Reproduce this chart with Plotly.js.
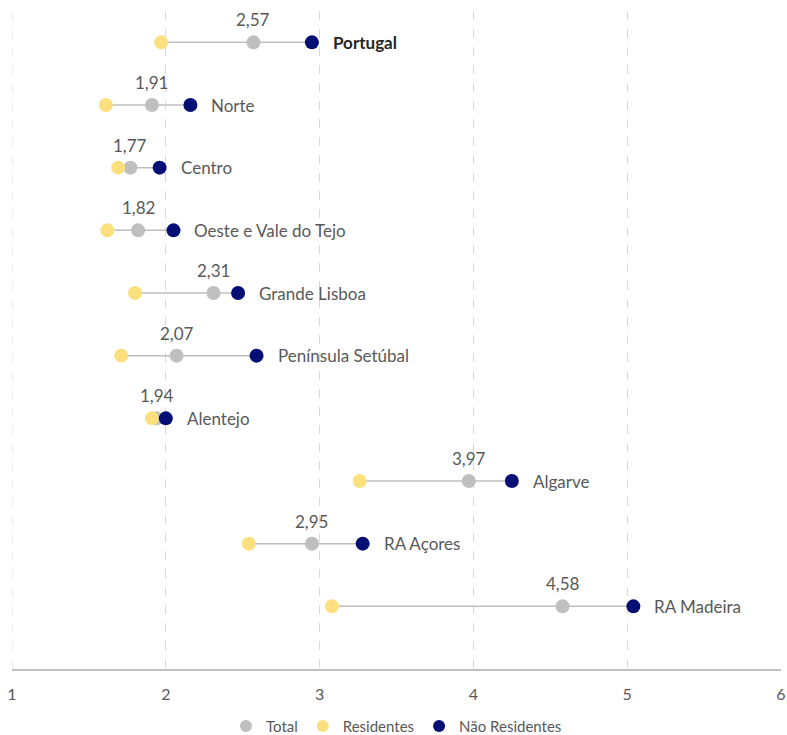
<!DOCTYPE html>
<html>
<head>
<meta charset="utf-8">
<script src="https://cdn.plot.ly/plotly-3.0.1.min.js"></script>
<style>html,body{margin:0;padding:0;background:#fff;}#chart{width:787px;height:735px;}</style>
</head>
<body>
<div id="chart"></div>
<script>
// Regions, top to bottom
const regions = ["Portugal", "Norte", "Centro", "Oeste e Vale do Tejo", "Grande Lisboa",
  "Península Setúbal", "Alentejo", "Algarve", "RA Açores", "RA Madeira"];
const total = [2.57, 1.91, 1.77, 1.82, 2.31, 2.07, 1.94, 3.97, 2.95, 4.58];
const residentes = [1.97, 1.61, 1.69, 1.62, 1.80, 1.71, 1.91, 3.26, 2.54, 3.08];
const naoResidentes = [2.95, 2.16, 1.96, 2.05, 2.47, 2.59, 2.00, 4.25, 3.28, 5.04];
const xTicks = [1, 2, 3, 4, 5, 6];

const FONT = "Lato, 'Open Sans', sans-serif";
const TEXT = "#595959";

// connector segments from residentes to não residentes
const segX = [], segY = [];
regions.forEach((r, i) => {
  segX.push(residentes[i], naoResidentes[i], null);
  segY.push(r, r, null);
});

const traces = [
  {x: segX, y: segY, mode: "lines", line: {color: "#BFBFBF", width: 1.5},
   hoverinfo: "skip", showlegend: false},
  {x: total, y: regions, mode: "markers", name: "Total",
   marker: {color: "#BFBFBF", size: 14}},
  {x: residentes, y: regions, mode: "markers", name: "Residentes",
   marker: {color: "#FBE07D", size: 14}},
  {x: naoResidentes, y: regions, mode: "markers", name: "Não Residentes",
   marker: {color: "#030F74", size: 14}}
];

const fmt = v => v.toFixed(2).replace(".", ",");
const annotations = [];
regions.forEach((r, i) => {
  annotations.push({x: total[i], y: r, text: fmt(total[i]), showarrow: false,
    xanchor: "center", yanchor: "bottom", yshift: 10,
    font: {family: FONT, size: 17, color: TEXT}});
  annotations.push({x: naoResidentes[i], y: r,
    text: i === 0 ? "<b>" + r + "</b>" : r, showarrow: false,
    xanchor: "left", yanchor: "middle", xshift: 19,
    font: {family: FONT, size: 17, color: i === 0 ? "#262626" : TEXT}});
});

const layout = {
  width: 787, height: 735,
  margin: {l: 12, r: 6, t: 11, b: 66},
  paper_bgcolor: "#fff", plot_bgcolor: "#fff",
  font: {family: FONT, size: 15, color: TEXT},
  xaxis: {range: [1, 6], tickvals: xTicks, ticktext: xTicks.map(String),
    showgrid: true, gridcolor: "#D9D9D9", griddash: "dash", gridwidth: 1,
    zeroline: false, showline: true, linecolor: "#BFBFBF", linewidth: 1.5,
    ticks: "", ticklabelstandoff: 10, fixedrange: true,
    tickfont: {family: FONT, size: 16, color: TEXT}},
  yaxis: {type: "category", categoryorder: "array", categoryarray: regions,
    range: [10, -0.5], showgrid: false, zeroline: false, showline: false,
    showticklabels: false, ticks: "", fixedrange: true},
  shapes: [{type: "line", xref: "x", yref: "paper", x0: 1, x1: 1, y0: 0, y1: 1,
    line: {color: "#D9D9D9", width: 1, dash: "dash"}, layer: "below"}],
  showlegend: true,
  legend: {orientation: "h", x: 0.5, xanchor: "center",
    yref: "container", y: 0.012, yanchor: "middle",
    traceorder: "normal", itemsizing: "constant", itemwidth: 30,
    font: {family: FONT, size: 15, color: TEXT}},
  annotations: annotations
};

Plotly.newPlot("chart", traces, layout, {displayModeBar: false, staticPlot: true});
</script>
</body>
</html>
